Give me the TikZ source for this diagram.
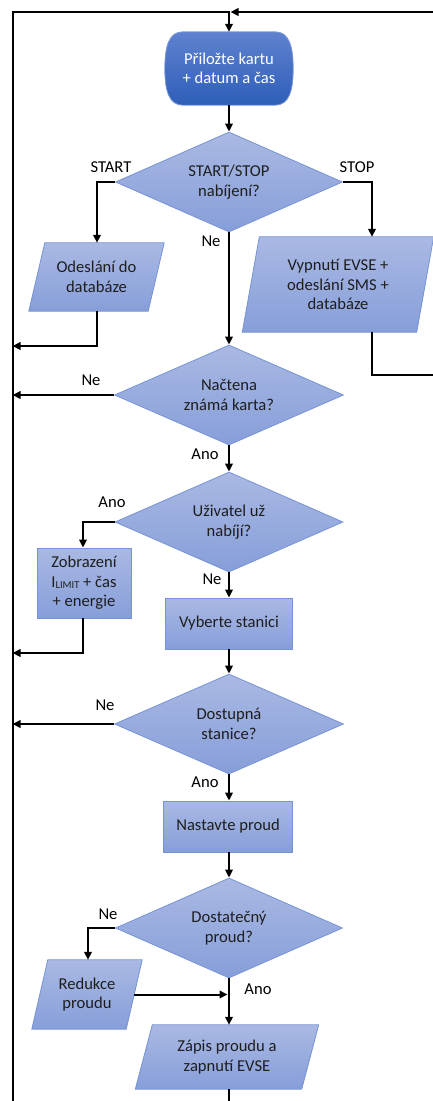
\documentclass[tikz,border=0pt]{standalone}
\usepackage{fontspec}
\setmainfont{Carlito}
\usetikzlibrary{shapes.geometric,arrows.meta,backgrounds,calc}

\definecolor{boxtop}{HTML}{AAB9E3}
\definecolor{boxbot}{HTML}{869ED9}
\definecolor{boxedge}{HTML}{7593D6}
\definecolor{termtop}{HTML}{5F82CF}
\definecolor{termbot}{HTML}{2E5EB9}
\definecolor{termedge}{HTML}{7F9BDC}
\definecolor{ink}{HTML}{1E1E1E}

\tikzset{
  txt/.style={font=\fontsize{16.6pt}{19.5pt}\selectfont, text=ink, align=center, inner sep=0pt},
  face/.style={top color=boxtop, bottom color=boxbot, draw=boxedge, line width=0.8pt},
  decision/.style={txt, face, diamond, shape aspect=2.3},
  process/.style={txt, face, rectangle},
  iobox/.style={txt, rectangle},
  termbox/.style={txt, rectangle, text=white},
  flow/.style={line width=2pt, -{Triangle[length=8pt,width=7.5pt]}},
  wire/.style={line width=2pt},
  lbl/.style={txt, text=black},
}

% parallelogram behind a text node: node name, half of the slant
\newcommand\iofill[2]{%
  \path[face] ($(#1.north west)+(#2,0)$) -- ($(#1.north east)+(#2,0)$)
    -- ($(#1.south east)+(-#2,0)$) -- ($(#1.south west)+(-#2,0)$) -- cycle;}

\begin{document}
\begin{tikzpicture}[x=1pt,y=-1pt]
\useasboundingbox (0,0) rectangle (433,1101);

% ---- nodes ----
\node[termbox, minimum width=128pt, minimum height=73pt] (term) at (229,68.5)
  {Přiložte kartu\\+ datum a čas};
\node[decision, minimum width=227pt, minimum height=100pt] (d1) at (229,182)
  {START/STOP\\nabíjení?};
\node[iobox, minimum width=119pt, minimum height=68pt] (odes) at (96.5,277)
  {Odeslání do\\databáze};
\node[iobox, minimum width=174pt, minimum height=95pt] (vyp) at (338,284.5)
  {Vypnutí EVSE +\\odeslání SMS +\\databáze};
\node[decision, minimum width=229pt, minimum height=100pt] (d2) at (229,395)
  {Načtena\\známá karta?};
\node[decision, minimum width=228pt, minimum height=100pt] (d3) at (229,522)
  {Uživatel už\\nabíjí?};
\node[process, minimum width=94pt, minimum height=70pt] (zob) at (84,583)
  {Zobrazení\\I\raisebox{-1.5pt}{\fontsize{10.5pt}{11pt}\selectfont LIMIT} + čas\\+ energie};
\node[process, minimum width=127pt, minimum height=51pt] (vyb) at (229,623.5)
  {Vyberte stanici};
\node[decision, minimum width=229pt, minimum height=100pt] (d4) at (229,724)
  {Dostupná\\stanice?};
\node[process, minimum width=129pt, minimum height=51pt] (nas) at (228,826.5)
  {Nastavte proud};
\node[decision, minimum width=227pt, minimum height=100pt] (d5) at (229,928)
  {Dostatečný\\proud?};
\node[iobox, minimum width=94pt, minimum height=69pt] (red) at (87,994.5)
  {Redukce\\proudu};
\node[iobox, minimum width=166pt, minimum height=64pt] (zap) at (227,1057)
  {Zápis proudu a\\zapnutí EVSE};

% ---- shapes behind the text ----
\begin{scope}[on background layer]
  \path[top color=termtop, bottom color=termbot, draw=termedge, line width=0.8pt]
    ($(term.north west)+(18,0)$) -- ($(term.north east)+(-18,0)$)
    .. controls ($(term.north east)+(-4,0)$) and ($(term.east)+(0,-22)$) .. (term.east)
    .. controls ($(term.east)+(0,22)$) and ($(term.south east)+(-4,0)$) .. ($(term.south east)+(-18,0)$)
    -- ($(term.south west)+(18,0)$)
    .. controls ($(term.south west)+(4,0)$) and ($(term.west)+(0,22)$) .. (term.west)
    .. controls ($(term.west)+(0,-22)$) and ($(term.north west)+(4,0)$) .. ($(term.north west)+(18,0)$)
    -- cycle;
  \iofill{odes}{8}
  \iofill{vyp}{8.5}
  \iofill{red}{8}
  \iofill{zap}{8.5}
\end{scope}

% ---- branch labels ----
\node[lbl] (lstart) at (111,167) {START};
\node[lbl] (lstop) at (357,167) {STOP};
\node[lbl] (lne1) at (211,241) {Ne};
\node[lbl] (lne2) at (91,380) {Ne};
\node[lbl] (lano2) at (205,454) {Ano};
\node[lbl] (lano3) at (112,502) {Ano};
\node[lbl] (lne3) at (212,579) {Ne};
\node[lbl] (lne4) at (105,705) {Ne};
\node[lbl] (lano4) at (205,782) {Ano};
\node[lbl] (lne5) at (108,914) {Ne};
\node[lbl] (lano5) at (258,989) {Ano};

% ---- routing points ----
\coordinate (rail) at (13,0);
\coordinate (railbot) at (13,1110);
\coordinate (railtop) at (13,12);
\coordinate (topjoin) at (229,12);
\coordinate (startcol) at (97,182);
\coordinate (stopcol) at (372,182);
\coordinate (rbend) at (372,375);
\coordinate (rout) at (445,375);
\coordinate (rtop) at (445,12);
\coordinate (odesbend) at (97,346);
\coordinate (anocol) at (83,522);
\coordinate (zobbend) at (83,653);
\coordinate (necol) at (88,928);
\coordinate (bottomend) at (229,1110);

% ---- connectors ----
\draw[flow] (railbot) -- (railtop) -- (topjoin) -- (term.north);
\draw[flow, shorten >=1.5pt] (stopcol |- vyp.south) -- (rbend) -- (rout) -- (rtop) -- (topjoin);
\draw[flow] (term.south) -- (d1.north);
\draw[flow] (d1.west) -- (startcol) -- (startcol |- odes.north);
\draw[flow] (d1.east) -- (stopcol) -- (stopcol |- vyp.north);
\draw[flow, shorten >=-0.5pt] (startcol |- odes.south) -- (odesbend) -- (odesbend -| rail);
\draw[flow] (d1.south) -- (d2.north);
\draw[flow, shorten >=-0.5pt] (d2.west) -- (d2.west -| rail);
\draw[flow] (d2.south) -- (d3.north);
\draw[flow] (d3.west) -- (anocol) -- (anocol |- zob.north);
\draw[flow, shorten >=-0.5pt] (anocol |- zob.south) -- (zobbend) -- (zobbend -| rail);
\draw[flow] (d3.south) -- (vyb.north);
\draw[flow] (vyb.south) -- (d4.north);
\draw[flow, shorten >=-0.5pt] (d4.west) -- (d4.west -| rail);
\draw[flow] (d4.south) -- (d4.south |- nas.north);
\draw[flow] (d4.south |- nas.south) -- (d5.north);
\draw[flow] (d5.west) -- (necol) -- (necol |- red.north);
\draw[flow, shorten >=1.5pt] (red.east) -- (red.east -| d5.south);
\draw[flow] (d5.south) -- (d5.south |- zap.north);
\draw[wire] (d5.south |- zap.south) -- (bottomend);
\end{tikzpicture}
\end{document}
